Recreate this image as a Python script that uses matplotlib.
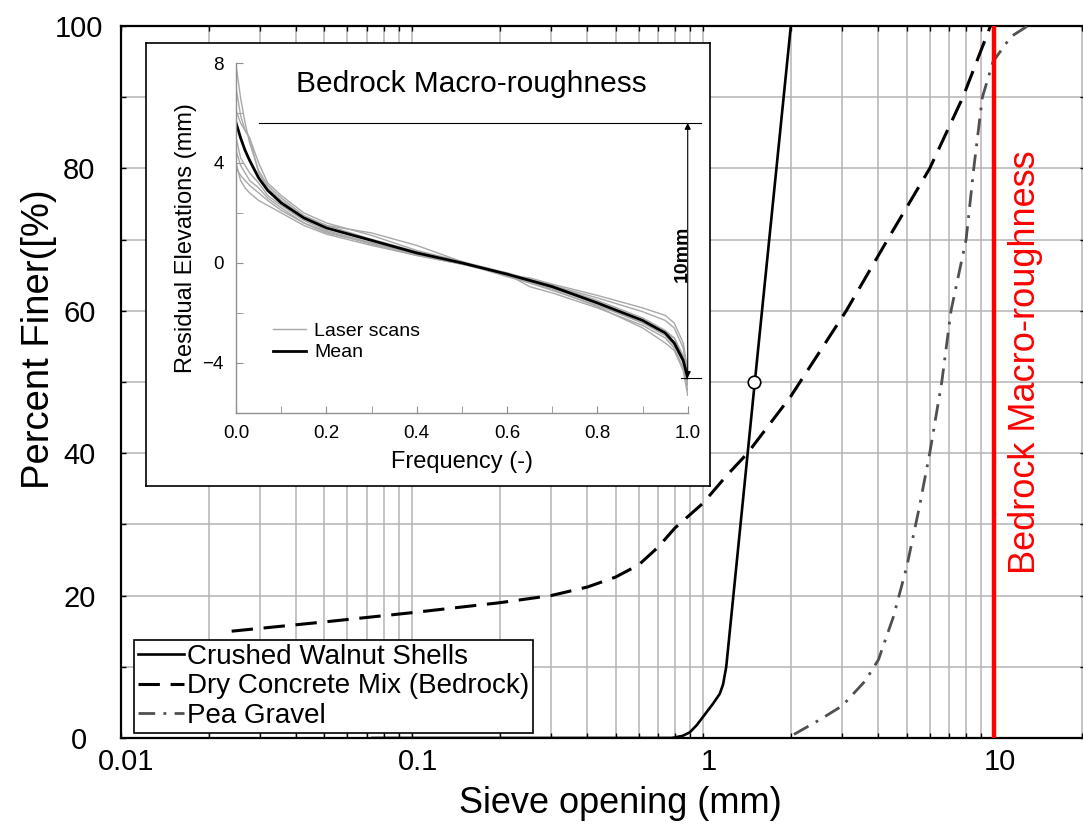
import numpy as np
import matplotlib
matplotlib.use("Agg")
import matplotlib.pyplot as plt
import matplotlib.transforms as mtransforms
from matplotlib.ticker import FixedLocator, FixedFormatter, LogLocator, MultipleLocator, NullFormatter

plt.rcParams['font.family'] = ['Liberation Sans', 'DejaVu Sans']

# --- grain size distributions (sieve opening mm, percent finer) ---
walnut_x = [0.073, 0.5, 0.78, 0.85, 0.9, 0.95, 1.0, 1.08, 1.14, 1.17, 1.2, 1.5, 2.0]
walnut_y = [0, 0, 0, 0.3, 0.8, 1.8, 3.0, 4.8, 6.2, 7.5, 10, 49.5, 100]

concrete_x = [0.024, 0.05, 0.1, 0.2, 0.3, 0.4, 0.5, 0.6, 0.7, 0.8, 1.0, 1.2, 1.42, 2.0, 3.1, 4.3, 6.0, 7.8, 9.7]
concrete_y = [15, 16.3, 17.6, 19.0, 20.0, 21.2, 22.6, 24.3, 26.8, 29.5, 33.0, 36.8, 40, 48, 60, 70, 80, 90, 100]

gravel_x = [2.05, 2.5, 3.0, 3.6, 4.0, 4.5, 5.0, 5.5, 6.0, 6.6, 7.1, 8.0, 8.5, 9.1, 9.9, 11.4, 13.0]
gravel_y = [0.5, 2.5, 4.5, 8, 11, 17, 24, 32, 40, 50, 60, 70, 80, 90, 95, 98.5, 100]

d50_x = [1.5]
d50_y = [50]
bedrock_size = 10

# --- inset: residual elevations vs frequency ---
freq = [0, 0.01, 0.02, 0.03, 0.05, 0.07, 0.1, 0.15, 0.2, 0.3, 0.4, 0.5, 0.6, 0.65, 0.7, 0.8, 0.9, 0.95, 0.97, 0.99, 1.0]
mean_elev = [5.6, 5.0, 4.5, 4.1, 3.4, 2.9, 2.4, 1.8, 1.4, 0.9, 0.4, 0.0, -0.45, -0.7, -0.95, -1.6, -2.3, -2.8, -3.2, -3.9, -4.6]
scans = [
    [7.9, 6.6, 5.6, 4.8, 3.7, 3.1, 2.6, 1.9, 1.5, 0.95, 0.45, 0.0, -0.5, -0.75, -1.0, -1.65, -2.4, -2.9, -3.3, -4.0, -4.8],
    [7.0, 5.9, 5.3, 5.0, 4.0, 3.2, 2.7, 2.0, 1.6, 1.1, 0.5, 0.05, -0.4, -0.65, -0.9, -1.4, -1.95, -2.3, -2.6, -3.4, -4.5],
    [6.1, 5.6, 5.3, 5.0, 3.6, 3.0, 2.5, 1.85, 1.5, 1.2, 0.7, 0.05, -0.5, -0.6, -0.85, -1.3, -1.8, -2.1, -2.4, -3.2, -4.3],
    [5.0, 4.2, 3.9, 3.6, 3.2, 2.7, 2.3, 1.7, 1.3, 0.8, 0.35, 0.0, -0.45, -0.95, -1.2, -1.8, -2.5, -3.0, -3.4, -4.2, -5.1],
    [4.5, 3.9, 3.6, 3.3, 3.0, 2.6, 2.2, 1.6, 1.25, 0.75, 0.3, -0.05, -0.5, -0.8, -1.05, -1.75, -2.6, -3.2, -3.5, -4.3, -5.3],
    [4.0, 3.3, 3.0, 2.8, 2.5, 2.3, 2.0, 1.5, 1.15, 0.7, 0.3, -0.05, -0.4, -0.7, -0.9, -1.5, -2.2, -2.7, -3.0, -3.8, -4.9],
    [3.8, 3.5, 3.3, 3.1, 2.8, 2.5, 2.1, 1.6, 1.2, 0.8, 0.35, 0.0, -0.55, -0.8, -1.1, -1.7, -2.4, -2.8, -3.0, -3.7, -4.6],
]

fig = plt.figure(figsize=(10.83, 8.24), dpi=100)
ax = fig.add_axes([0.1117, 0.1044, 0.8902, 0.864])

ax.plot(walnut_x, walnut_y, color='black', lw=1.9, label='Crushed Walnut Shells', zorder=4)
ax.plot(concrete_x, concrete_y, color='black', lw=2.2, dashes=(7, 3.5),
        label='Dry Concrete Mix (Bedrock)', zorder=4)
ax.plot(gravel_x, gravel_y, color='#505050', lw=2.0, dashes=(6, 3, 1, 3),
        label='Pea Gravel', zorder=4)
ax.plot(d50_x, d50_y, 'o', ms=9, mfc='white', mec='black', mew=1.2, zorder=5)
ax.axvline(bedrock_size, color='#ff0000', lw=3.2, zorder=4)
ax.text(12.8, 52.8, 'Bedrock Macro-roughness', color='#ff0000', rotation=90,
        fontsize=26, ha='center', va='center')

ax.set_xscale('log')
ax.set_xlim(0.01, 20.5)
ax.set_ylim(0, 100)
ax.xaxis.set_major_locator(FixedLocator([0.01, 0.1, 1, 10]))
ax.xaxis.set_major_formatter(FixedFormatter(['0.01', '0.1', '1', '10']))
ax.xaxis.set_minor_locator(LogLocator(base=10, subs=np.arange(2, 10)))
ax.xaxis.set_minor_formatter(NullFormatter())
ax.yaxis.set_major_locator(MultipleLocator(20))
ax.yaxis.set_minor_locator(MultipleLocator(10))
ax.grid(True, which='both', color='#b4b4b4', lw=1.1, zorder=0)
ax.tick_params(which='both', direction='in', top=True, right=True, length=3.5, width=1.0)
ax.tick_params(axis='both', labelsize=21)
ax.tick_params(axis='x', pad=7)
ax.tick_params(axis='y', pad=30)
for lab in ax.get_yticklabels():
    lab.set_horizontalalignment('center')
# tick labels in the reference sit a little right of their ticks
shift = mtransforms.ScaledTranslation(0.055, 0, fig.dpi_scale_trans)
for lab in ax.get_xticklabels():
    lab.set_transform(lab.get_transform() + shift)
for s in ax.spines.values():
    s.set_linewidth(1.6)

ax.set_xlabel('Sieve opening (mm)', fontsize=26)
ax.set_ylabel('Percent Finer([%)', fontsize=27.5)
ax.xaxis.set_label_coords(0.518, -0.068)
ax.yaxis.set_label_coords(-0.066, 0.56)

leg = ax.legend(loc='lower left', bbox_to_anchor=(0.0135, 0.007), fontsize=20,
                frameon=True, fancybox=False, edgecolor='black', framealpha=1,
                handlelength=1.65, handletextpad=0.1, borderpad=0.15, labelspacing=0.12,
                borderaxespad=0)
leg.get_frame().set_linewidth(1.2)
leg.set_zorder(6)

# inset frame
frame = fig.add_axes([0.135, 0.41, 0.521, 0.538])
frame.set_xticks([])
frame.set_yticks([])
for s in frame.spines.values():
    s.set_linewidth(1.2)
frame.set_zorder(7)

ins = fig.add_axes([0.218, 0.499, 0.417, 0.4245])
ins.set_zorder(8)
ins.patch.set_alpha(0)
for i, sc in enumerate(scans):
    ins.plot(freq, sc, color='#a8a8a8', lw=1.0, label='Laser scans' if i == 0 else None)
ins.plot(freq, mean_elev, color='black', lw=2.0, label='Mean')
ins.set_xlim(0, 1.0)
ins.set_ylim(-6, 8)
ins.spines['top'].set_visible(False)
ins.spines['right'].set_visible(False)
for s in ['left', 'bottom']:
    ins.spines[s].set_color('#909090')
    ins.spines[s].set_linewidth(1.0)
ins.xaxis.set_major_locator(FixedLocator([0, 0.2, 0.4, 0.6, 0.8, 1.0]))
ins.xaxis.set_major_formatter(FixedFormatter(['0.0', '0.2', '0.4', '0.6', '0.8', '1.0']))
ins.xaxis.set_minor_locator(FixedLocator([0.1, 0.3, 0.5, 0.7, 0.9]))
ins.yaxis.set_major_locator(FixedLocator([-4, 0, 4, 8]))
ins.yaxis.set_minor_locator(FixedLocator([-6, -2, 2, 6]))
ins.tick_params(which='both', direction='in', length=5, color='#909090', labelsize=13.5)
ins.tick_params(axis='x', pad=9)
ins.tick_params(axis='y', pad=9)
ins.set_xlabel('Frequency (-)', fontsize=17, labelpad=6)
ins.set_ylabel('Residual Elevations (mm)', fontsize=17, labelpad=4)
ins.text(0.52, 7.15, 'Bedrock Macro-roughness', fontsize=21.5, ha='center', va='center')

# 10 mm dimension
ins.plot([0.05, 1.03], [5.6, 5.6], color='black', lw=0.8, clip_on=False)
ins.plot([0.985, 1.03], [-4.6, -4.6], color='black', lw=0.8, clip_on=False)
ins.annotate('', xy=(1.0, 5.6), xytext=(1.0, -4.6),
             arrowprops=dict(arrowstyle='<|-|>', color='black', lw=0.8,
                             mutation_scale=9, shrinkA=0, shrinkB=0),
             annotation_clip=False)
ins.text(0.987, 0.35, '10mm', rotation=90, fontsize=14, fontweight='bold',
         ha='center', va='center')

ins.legend(loc='lower left', bbox_to_anchor=(0.065, 0.125), fontsize=14, frameon=False,
           handlelength=1.7, handletextpad=0.4, labelspacing=0.2, borderaxespad=0)

fig.savefig('out.png', dpi=100)
